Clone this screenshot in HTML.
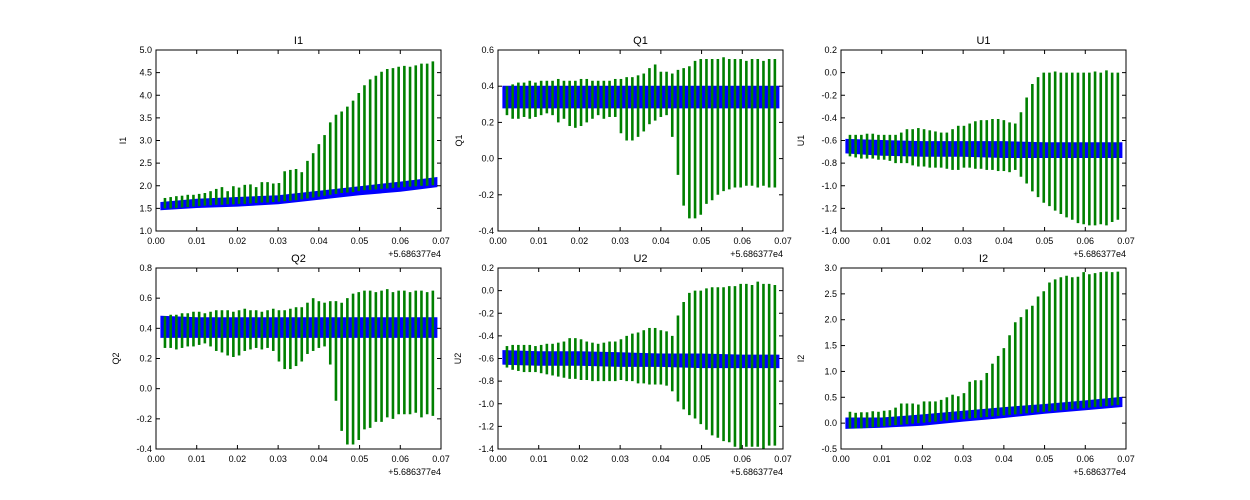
<!DOCTYPE html>
<html><head><meta charset="utf-8"><style>
html,body{margin:0;padding:0;background:#fff;}
svg{display:block;font-family:"Liberation Sans",sans-serif;}
</style></head><body>
<svg id="fig" width="1250" height="500" viewBox="0 0 1250 500"></svg>
<script>
const spikeTimes=[0.0022,0.0036,0.0050,0.0064,0.0078,0.0092,0.0106,0.0120,0.0134,0.0148,0.0162,0.0176,0.0190,0.0204,0.0218,0.0232,0.0246,0.0260,0.0274,0.0288,0.0302,0.0316,0.0330,0.0344,0.0358,0.0372,0.0386,0.0400,0.0414,0.0428,0.0442,0.0456,0.0470,0.0484,0.0498,0.0512,0.0526,0.0540,0.0554,0.0568,0.0582,0.0596,0.0610,0.0624,0.0638,0.0652,0.0666,0.0680];
const bandTimes=[0.0012,0.01,0.02,0.03,0.04,0.05,0.06,0.069];
const xTicks=[0.00,0.01,0.02,0.03,0.04,0.05,0.06,0.07];
const xTickLabels=["0.00","0.01","0.02","0.03","0.04","0.05","0.06","0.07"];

const I1_hi=[1.73,1.75,1.77,1.78,1.80,1.80,1.82,1.84,1.88,1.93,1.97,1.88,1.99,1.96,2.02,2.03,1.97,2.08,2.08,2.05,2.06,2.32,2.35,2.37,2.30,2.55,2.72,2.92,3.12,3.40,3.57,3.64,3.75,3.88,4.05,4.22,4.35,4.43,4.52,4.58,4.60,4.63,4.65,4.63,4.66,4.70,4.70,4.75];
const I1_lo=[1.50,1.50,1.51,1.52,1.53,1.54,1.55,1.56,1.57,1.58,1.58,1.59,1.59,1.60,1.60,1.61,1.62,1.63,1.63,1.64,1.65,1.66,1.67,1.68,1.70,1.72,1.74,1.76,1.78,1.80,1.82,1.84,1.85,1.86,1.88,1.90,1.91,1.92,1.93,1.94,1.95,1.96,1.97,1.98,1.99,2.00,2.00,2.01];
const I1_bandLo=[1.47,1.52,1.55,1.60,1.70,1.80,1.88,1.98];
const I1_bandHi=[1.63,1.70,1.74,1.78,1.88,1.98,2.08,2.18];

const Q1_hi=[0.40,0.41,0.42,0.42,0.43,0.42,0.43,0.43,0.43,0.44,0.43,0.43,0.43,0.44,0.44,0.43,0.43,0.43,0.43,0.44,0.44,0.45,0.45,0.46,0.47,0.50,0.52,0.48,0.48,0.47,0.49,0.50,0.51,0.54,0.55,0.55,0.55,0.55,0.56,0.55,0.55,0.55,0.54,0.55,0.55,0.54,0.55,0.55];
const Q1_lo=[0.24,0.22,0.22,0.23,0.22,0.23,0.24,0.25,0.24,0.20,0.22,0.18,0.17,0.18,0.20,0.22,0.24,0.22,0.23,0.23,0.14,0.10,0.10,0.12,0.15,0.19,0.21,0.23,0.24,0.12,-0.09,-0.26,-0.33,-0.33,-0.31,-0.25,-0.23,-0.20,-0.18,-0.17,-0.16,-0.16,-0.15,-0.15,-0.16,-0.15,-0.16,-0.16];
const Q1_bandLo=[0.28,0.28,0.28,0.28,0.28,0.28,0.28,0.28];
const Q1_bandHi=[0.40,0.40,0.40,0.40,0.40,0.40,0.40,0.40];

const U1_hi=[-0.55,-0.55,-0.55,-0.54,-0.54,-0.55,-0.55,-0.55,-0.55,-0.53,-0.50,-0.50,-0.49,-0.50,-0.51,-0.52,-0.53,-0.53,-0.50,-0.47,-0.47,-0.45,-0.43,-0.42,-0.42,-0.41,-0.41,-0.42,-0.44,-0.45,-0.35,-0.22,-0.10,-0.04,0.00,0.00,0.01,0.00,0.00,0.00,0.00,0.00,0.00,0.01,0.00,0.02,0.00,0.00];
const U1_lo=[-0.74,-0.75,-0.76,-0.76,-0.76,-0.77,-0.77,-0.78,-0.80,-0.80,-0.80,-0.82,-0.83,-0.83,-0.84,-0.84,-0.84,-0.85,-0.86,-0.86,-0.84,-0.84,-0.85,-0.85,-0.86,-0.86,-0.87,-0.87,-0.88,-0.86,-0.92,-0.98,-1.05,-1.10,-1.15,-1.18,-1.22,-1.25,-1.28,-1.30,-1.33,-1.34,-1.35,-1.35,-1.34,-1.35,-1.32,-1.30];
const U1_bandLo=[-0.71,-0.73,-0.74,-0.74,-0.75,-0.75,-0.75,-0.75];
const U1_bandHi=[-0.59,-0.60,-0.61,-0.61,-0.61,-0.62,-0.62,-0.62];

const Q2_hi=[0.48,0.49,0.49,0.50,0.50,0.51,0.51,0.50,0.51,0.52,0.52,0.52,0.51,0.52,0.53,0.52,0.52,0.51,0.52,0.53,0.52,0.52,0.53,0.54,0.54,0.57,0.60,0.58,0.57,0.58,0.58,0.57,0.60,0.63,0.64,0.65,0.65,0.64,0.65,0.66,0.64,0.65,0.65,0.64,0.65,0.65,0.64,0.65];
const Q2_lo=[0.27,0.27,0.26,0.27,0.28,0.28,0.29,0.30,0.28,0.25,0.24,0.22,0.21,0.22,0.25,0.26,0.27,0.26,0.27,0.25,0.18,0.13,0.13,0.15,0.18,0.23,0.25,0.27,0.28,0.16,-0.08,-0.28,-0.37,-0.37,-0.34,-0.27,-0.26,-0.22,-0.22,-0.19,-0.20,-0.17,-0.17,-0.17,-0.16,-0.19,-0.17,-0.18];
const Q2_bandLo=[0.34,0.34,0.34,0.34,0.34,0.34,0.34,0.34];
const Q2_bandHi=[0.48,0.47,0.47,0.47,0.47,0.47,0.47,0.47];

const U2_hi=[-0.49,-0.48,-0.48,-0.48,-0.48,-0.49,-0.48,-0.47,-0.47,-0.46,-0.45,-0.42,-0.42,-0.43,-0.45,-0.46,-0.47,-0.46,-0.45,-0.45,-0.43,-0.40,-0.38,-0.37,-0.35,-0.33,-0.33,-0.35,-0.36,-0.40,-0.22,-0.10,-0.02,0.00,0.00,0.02,0.03,0.03,0.03,0.04,0.04,0.06,0.06,0.05,0.08,0.06,0.06,0.05];
const U2_lo=[-0.68,-0.70,-0.71,-0.72,-0.72,-0.72,-0.73,-0.74,-0.75,-0.76,-0.77,-0.78,-0.78,-0.79,-0.79,-0.80,-0.80,-0.80,-0.80,-0.80,-0.79,-0.80,-0.80,-0.82,-0.82,-0.83,-0.83,-0.83,-0.84,-0.89,-0.98,-1.05,-1.10,-1.13,-1.18,-1.23,-1.28,-1.30,-1.33,-1.34,-1.38,-1.40,-1.38,-1.38,-1.38,-1.40,-1.37,-1.37];
const U2_bandLo=[-0.65,-0.66,-0.66,-0.67,-0.67,-0.68,-0.68,-0.68];
const U2_bandHi=[-0.53,-0.54,-0.54,-0.55,-0.56,-0.56,-0.57,-0.57];

const I2_hi=[0.22,0.20,0.21,0.21,0.23,0.22,0.24,0.25,0.30,0.38,0.38,0.38,0.36,0.42,0.42,0.42,0.45,0.50,0.55,0.52,0.58,0.80,0.83,0.83,0.97,1.15,1.30,1.45,1.70,1.95,2.05,2.20,2.27,2.45,2.55,2.72,2.78,2.82,2.85,2.82,2.83,2.92,2.88,2.90,2.92,2.93,2.92,2.93];
const I2_lo=[-0.10,-0.10,-0.10,-0.09,-0.08,-0.07,-0.06,-0.05,-0.04,-0.03,-0.02,-0.01,0.00,0.01,0.02,0.03,0.04,0.05,0.06,0.07,0.08,0.09,0.10,0.11,0.12,0.13,0.14,0.15,0.16,0.17,0.18,0.19,0.20,0.21,0.22,0.23,0.24,0.25,0.26,0.27,0.28,0.29,0.30,0.31,0.32,0.33,0.34,0.35];
const I2_bandLo=[-0.10,-0.08,-0.04,0.04,0.11,0.19,0.26,0.32];
const I2_bandHi=[0.10,0.10,0.16,0.23,0.30,0.36,0.43,0.50];

const I1_yTicks=["1.0","1.5","2.0","2.5","3.0","3.5","4.0","4.5","5.0"];
const Q1_yTicks=["-0.4","-0.2","0.0","0.2","0.4","0.6"];
const U1_yTicks=["-1.4","-1.2","-1.0","-0.8","-0.6","-0.4","-0.2","0.0","0.2"];
const Q2_yTicks=["-0.4","-0.2","0.0","0.2","0.4","0.6","0.8"];
const U2_yTicks=["-1.4","-1.2","-1.0","-0.8","-0.6","-0.4","-0.2","0.0","0.2"];
const I2_yTicks=["-0.5","0.0","0.5","1.0","1.5","2.0","2.5","3.0"];

const panels=[
 {name:"I1",x:156,y:50,lab:30,ticks:I1_yTicks,hi:I1_hi,lo:I1_lo,bl:I1_bandLo,bh:I1_bandHi},
 {name:"Q1",x:498,y:50,lab:36,ticks:Q1_yTicks,hi:Q1_hi,lo:Q1_lo,bl:Q1_bandLo,bh:Q1_bandHi},
 {name:"U1",x:841,y:50,lab:37,ticks:U1_yTicks,hi:U1_hi,lo:U1_lo,bl:U1_bandLo,bh:U1_bandHi},
 {name:"Q2",x:156,y:268,lab:37,ticks:Q2_yTicks,hi:Q2_hi,lo:Q2_lo,bl:Q2_bandLo,bh:Q2_bandHi},
 {name:"U2",x:498,y:268,lab:37,ticks:U2_yTicks,hi:U2_hi,lo:U2_lo,bl:U2_bandLo,bh:U2_bandHi},
 {name:"I2",x:841,y:268,lab:37,ticks:I2_yTicks,hi:I2_hi,lo:I2_lo,bl:I2_bandLo,bh:I2_bandHi}
];
const W=285,H=181,NS="http://www.w3.org/2000/svg";
const fig=document.getElementById('fig');
function mk(tag,attrs,parent,text){const e=document.createElementNS(NS,tag);for(const k in attrs)e.setAttribute(k,attrs[k]);if(text!==undefined)e.textContent=text;parent.appendChild(e);return e;}

panels.forEach(p=>{
 const g=mk('g',{},fig);
 
 
 const ymin=parseFloat(p.ticks[0]),ymax=parseFloat(p.ticks[p.ticks.length-1]);
 const sx=v=>p.x+v/0.07*W;
 const sy=v=>p.y+H-(v-ymin)/(ymax-ymin)*H;
 const cid='clip-'+p.name;
 const cp=mk('clipPath',{id:cid},g);mk('rect',{x:p.x,y:p.y,width:W,height:H},cp);
 const plot=mk('g',{'clip-path':'url(#'+cid+')'},g);
 let d='';
 bandTimes.forEach((t,i)=>{d+=(i?'L':'M')+sx(t).toFixed(1)+','+sy(p.bh[i]).toFixed(1);});
 for(let i=bandTimes.length-1;i>=0;i--)d+='L'+sx(bandTimes[i]).toFixed(1)+','+sy(p.bl[i]).toFixed(1);
 const band=mk('path',{d:d+'Z',fill:'#0000ff',stroke:'#0000ff','stroke-width':1},plot);
 
 
 spikeTimes.forEach((t,i)=>{
  const l=mk('line',{x1:sx(t),x2:sx(t),y1:sy(p.lo[i]),y2:sy(p.hi[i]),stroke:'#008000','stroke-width':2.6},plot);
  
  
 });
 const fr=mk('rect',{x:p.x,y:p.y,width:W,height:H,fill:'none',stroke:'#000','stroke-width':1},g);
 
 
 xTicks.forEach((v,i)=>{
  const x=sx(v);
  mk('line',{x1:x,x2:x,y1:p.y+H,y2:p.y+H-4,stroke:'#000'},g);
  mk('line',{x1:x,x2:x,y1:p.y,y2:p.y+4,stroke:'#000'},g);
  const tl=mk('text',{x:x,y:p.y+H+13,'font-size':9,'text-anchor':'middle',fill:'#000'},g,xTickLabels[i]);
  
  
 });
 const off=mk('text',{x:p.x+W,y:p.y+H+26,'font-size':9,'text-anchor':'end',fill:'#000'},g,'+5.686377e4');
 
 
 p.ticks.forEach(s=>{
  const y=sy(parseFloat(s));
  mk('line',{x1:p.x,x2:p.x+4,y1:y,y2:y,stroke:'#000'},g);
  mk('line',{x1:p.x+W,x2:p.x+W-4,y1:y,y2:y,stroke:'#000'},g);
  const tl=mk('text',{x:p.x-4,y:y+3,'font-size':9,'text-anchor':'end',fill:'#000'},g,s);
  
  
 });
 const ti=mk('text',{x:p.x+W/2,y:p.y-6,'font-size':11,'text-anchor':'middle',fill:'#000'},g,p.name);
 
 
 const yl=mk('text',{x:0,y:0,'font-size':9,'text-anchor':'middle',fill:'#000',transform:'translate('+(p.x-p.lab)+','+(p.y+H/2)+') rotate(-90)'},g,p.name);
 
 
});
</script>
</body></html>
